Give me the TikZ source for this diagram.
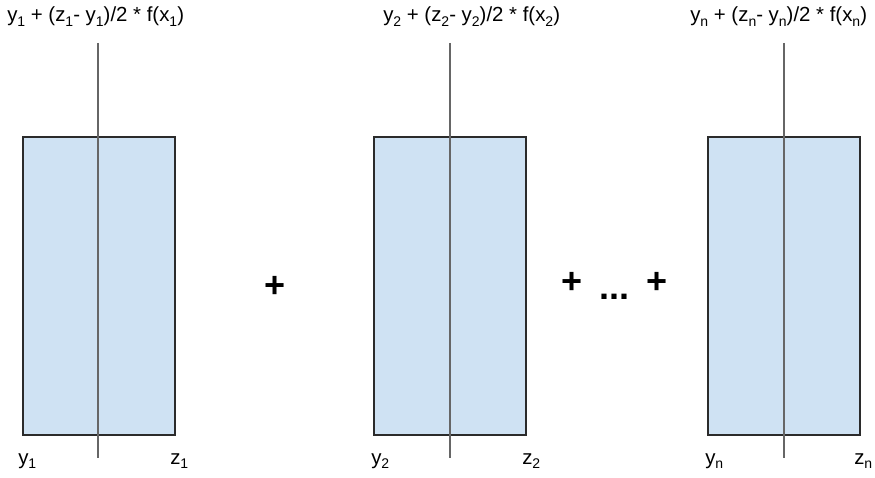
\documentclass[tikz,border=0pt]{standalone}
\usepackage{fontspec}
\setmainfont{Liberation Sans}
\definecolor{boxfill}{HTML}{CFE2F3}
\definecolor{boxedge}{HTML}{2B2B2B}
\definecolor{midline}{HTML}{666666}
\newcommand{\lowidx}[1]{\raisebox{-0.45ex}{\fontsize{10.5pt}{11pt}\selectfont #1}}
\begin{document}
\begin{tikzpicture}[x=0.75pt,y=-0.75pt,
  bar/.style={draw=boxedge,line width=1.5pt,fill=boxfill,minimum width=152*0.75pt,minimum height=298*0.75pt,inner sep=0pt},
  mid/.style={draw=midline,line width=1.1pt},
  lbl/.style={inner sep=0pt,font=\fontsize{15.3pt}{17pt}\selectfont},
  op/.style={inner sep=0pt,font=\fontsize{27pt}{29pt}\selectfont\bfseries}]
\useasboundingbox (0,0) rectangle (875,478);
% boxes
\node[bar] (b1) at (98.5,286) {};
\node[bar] (b2) at (449.5,286) {};
\node[bar] (b3) at (783.5,286) {};
% vertical lines
\coordinate (t1) at (98,43);  \coordinate (u1) at (98,458);
\coordinate (t2) at (450,43); \coordinate (u2) at (450,458);
\coordinate (t3) at (784,43); \coordinate (u3) at (784,458);
\draw[mid] (t1) -- (u1);
\draw[mid] (t2) -- (u2);
\draw[mid] (t3) -- (u3);
% top labels
\node[lbl,anchor=base west] (l1) at (7,22) {y\lowidx{1} + (z\lowidx{1}- y\lowidx{1})/2 * f(x\lowidx{1})};
\node[lbl,anchor=base west] (l2) at (383,22) {y\lowidx{2} + (z\lowidx{2}- y\lowidx{2})/2 * f(x\lowidx{2})};
\node[lbl,anchor=base west] (l3) at (690,22) {y\lowidx{n} + (z\lowidx{n}- y\lowidx{n})/2 * f(x\lowidx{n})};
% bottom labels
\node[lbl,anchor=base west] (y1) at (18,464) {y\lowidx{1}};
\node[lbl,anchor=base west] (z1) at (170,464) {z\lowidx{1}};
\node[lbl,anchor=base west] (y2) at (371,464) {y\lowidx{2}};
\node[lbl,anchor=base west] (z2) at (522,464) {z\lowidx{2}};
\node[lbl,anchor=base west] (y3) at (705,464) {y\lowidx{n}};
\node[lbl,anchor=base west] (z3) at (854,464) {z\lowidx{n}};
% operators
\node[op] (p1) at (275,287) {+};
\node[op] (p2) at (572,283) {+};
\node[op,anchor=base] (dots) at (614,299) {...};
\node[op] (p3) at (657,283) {+};
\end{tikzpicture}
\end{document}
